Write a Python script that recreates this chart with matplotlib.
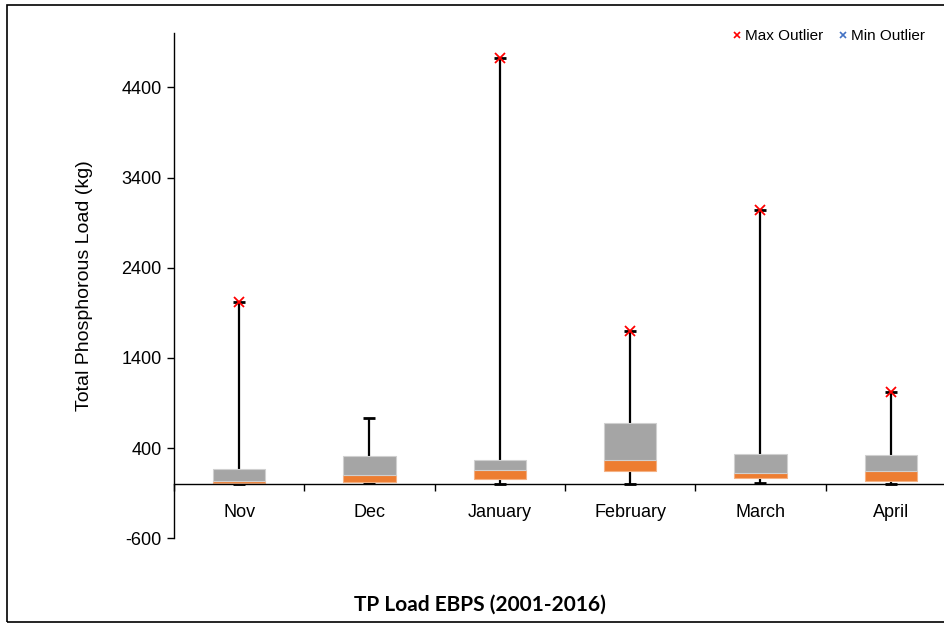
import numpy as np
import matplotlib.pyplot as plt
from matplotlib.lines import Line2D
from matplotlib.patches import Rectangle

plt.rcParams['font.family'] = ['Liberation Sans', 'DejaVu Sans']
plt.rcParams['axes.unicode_minus'] = False

months = ['Nov', 'Dec', 'January', 'February', 'March', 'April']
min_load = [5, 8, 5, 5, 8, 5]
q1_load = [8, 30, 55, 151, 66, 33]
median_load = [33, 103, 155, 265, 129, 147]
q3_load = [166, 313, 265, 682, 332, 321]
max_load = [2024, 730, 4723, 1703, 3042, 1018]
max_is_outlier = [True, False, True, True, True, True]

yticks = [-600, 400, 1400, 2400, 3400, 4400]

gray = '#A5A5A5'
orange = '#ED7D31'

fig = plt.figure(figsize=(9.45, 6.25), dpi=100)
ax = fig.add_axes([0.1841, 0.1387, 0.8275, 0.808])

x = np.arange(len(months))
q1 = np.array(q1_load)
med = np.array(median_load)
q3 = np.array(q3_load)

# whiskers behind the boxes
ax.vlines(x, min_load, max_load, color='black', lw=1.6, zorder=1)
ax.plot(x, min_load, ls='none', marker='_', ms=8, mew=2, color='black', zorder=1)
ax.plot(x, max_load, ls='none', marker='_', ms=8, mew=2, color='black', zorder=4)

# stacked box: q1->median orange, median->q3 gray
ax.bar(x, med - q1, bottom=q1, width=0.4, color=orange, edgecolor='#F4B183', lw=0.8, zorder=2)
ax.bar(x, q3 - med, bottom=med, width=0.4, color=gray, edgecolor='#D0D0D0', lw=0.8, zorder=2)

# max outliers
for xi, mv, flag in zip(x, max_load, max_is_outlier):
    if flag:
        ax.plot(xi, mv, ls='none', marker='x', ms=7, mew=1.3, color='red', zorder=5)

ax.set_xlim(-0.5, len(months) - 0.5)
ax.set_ylim(-600, 5000)
ax.set_yticks(yticks)
ax.tick_params(axis='y', labelsize=13, length=5, width=1, direction='out', pad=4)

ax.spines['top'].set_visible(False)
ax.spines['right'].set_visible(False)
ax.spines['bottom'].set_position(('data', 0))
ax.spines['left'].set_linewidth(1)
ax.spines['bottom'].set_linewidth(1)

ax.set_xticks(x)
ax.set_xticklabels(months)
ax.set_xticks(np.arange(len(months) + 1) - 0.5, minor=True)
ax.tick_params(axis='x', which='major', length=0, labelsize=13, pad=14)
ax.tick_params(axis='x', which='minor', length=5, width=1, direction='out')

ax.set_ylabel('Total Phosphorous Load (kg)', fontsize=14, labelpad=20)

handles = [
    Line2D([], [], ls='none', marker='x', ms=5, mew=1.2, color='red', label='Max Outlier'),
    Line2D([], [], ls='none', marker='x', ms=5, mew=1.2, color='#4472C4', label='Min Outlier'),
]
fig.legend(handles=handles, loc='upper right', bbox_to_anchor=(0.993, 0.975), ncol=2,
           frameon=False, fontsize=11, handlelength=0.6, handletextpad=0.2,
           columnspacing=1.0)

fig.text(0.508, 0.033, 'TP Load EBPS (2001-2016)', ha='center', va='center',
         fontsize=15, fontweight='bold', family=['Lato', 'DejaVu Sans'])

# outer chart frame
fig.patches.append(Rectangle((0.0074, 0.0048), 1.2, 0.9872, transform=fig.transFigure,
                             fill=False, edgecolor='black', lw=1.2))

fig.savefig('out.png', dpi=100)
